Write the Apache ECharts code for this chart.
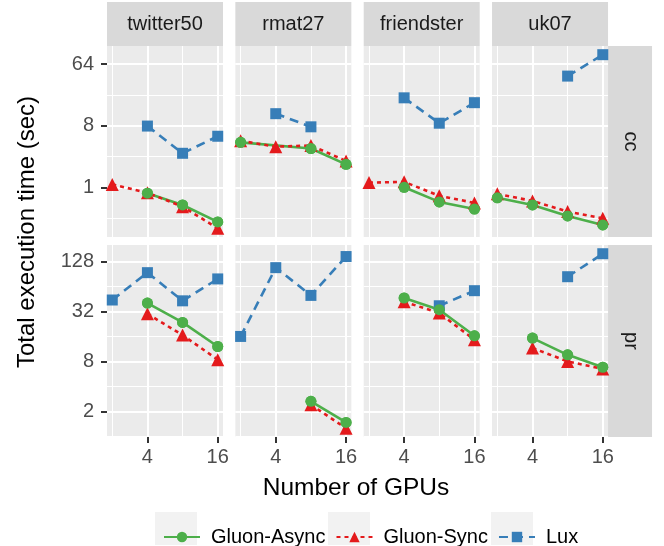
<!DOCTYPE html>
<html><head><meta charset="utf-8">
<script src="https://cdn.jsdelivr.net/npm/echarts@6/dist/echarts.min.js"></script>
<style>html,body{margin:0;padding:0;background:#fff}#c{width:664px;height:546px}</style>
</head><body><div id="c"></div>
<script>
// ---------- data ----------
const gpus = [2, 4, 8, 16];
const datasets = ['twitter50', 'rmat27', 'friendster', 'uk07'];
const metrics = ['cc', 'pr'];
const seriesNames = ['Gluon-Async', 'Gluon-Sync', 'Lux'];
const xTickValues = [4, 16];
const ccTickValues = [1, 8, 64];
const prTickValues = [2, 8, 32, 128];

// one row per dataset (twitter50, rmat27, friendster, uk07); one value per GPU count (2, 4, 8, 16)
const ccAsync = [[null, 0.82, 0.55, 0.31], [4.56, null, 3.7, 2.17], [null, 1.0, 0.61, 0.48], [0.70, 0.55, 0.38, 0.28]];
const ccSync  = [[1.1, 0.83, 0.52, 0.25], [4.8, 3.94, 4.1, 2.43], [1.17, 1.2, 0.75, 0.59], [0.8, 0.63, 0.44, 0.35]];
const ccLux   = [[null, 7.9, 3.15, 5.6], [null, 12, 7.7, null], [null, 20.5, 8.7, 17.4], [null, null, 42.7, 88]];
const prAsync = [[null, 40.4, 23.6, 12.1], [null, null, 2.64, 1.47], [null, 46.5, 33.6, 16.3], [null, 15.3, 9.6, 6.8]];
const prSync  = [[null, 30, 16.6, 8.4], [null, null, 2.4, 1.25], [null, 42, 30.6, 14.6], [null, 11.6, 8.0, 6.5]];
const prLux   = [[44, 94, 43, 79], [16, 108, 50, 147], [null, null, 37.5, 57], [null, null, 84, 159]];

// ---------- style / layout ----------
const FONT = "'Liberation Sans', Arial, Helvetica, sans-serif";
const COLORS = { 'Gluon-Async': '#4daf4a', 'Gluon-Sync': '#e41a1c', 'Lux': '#377eb8' };
const SYMBOLS = { 'Gluon-Async': 'circle', 'Gluon-Sync': 'triangle', 'Lux': 'rect' };
const SYM_SIZE = { 'Gluon-Async': 11, 'Gluon-Sync': 13, 'Lux': 11 };
const DASH = { 'Gluon-Async': 'solid', 'Gluon-Sync': [4, 4], 'Lux': [9, 6] };
const PANEL_LEFT = 107, PANEL_W = 116, PANEL_STEP = 128.35;
const ROWS = [{ top: 46, h: 191 }, { top: 245, h: 192 }];
const STRIP = 44;

const dataByMetric = {
  cc: { 'Gluon-Async': ccAsync, 'Gluon-Sync': ccSync, 'Lux': ccLux },
  pr: { 'Gluon-Async': prAsync, 'Gluon-Sync': prSync, 'Lux': prLux }
};
const ticksByMetric = { cc: ccTickValues, pr: prTickValues };

function logExtent(vals) {
  const l = vals.filter(v => v != null).map(v => Math.log2(v));
  const lo = Math.min(...l), hi = Math.max(...l), pad = (hi - lo) * 0.05;
  return [Math.pow(2, lo - pad), Math.pow(2, hi + pad)];
}
function minorOf(ticks, ext) {
  const out = [];
  const r = ticks[1] / ticks[0];
  const all = [ticks[0] / r].concat(ticks, [ticks[ticks.length - 1] * r]);
  for (let i = 0; i < all.length - 1; i++) {
    const m = Math.sqrt(all[i] * all[i + 1]);
    if (m >= ext[0] && m <= ext[1]) out.push(m);
  }
  return out;
}
const xExt = logExtent(gpus);
const xMinor = minorOf(xTickValues, xExt);
const yExt = {};
metrics.forEach(m => {
  let all = [];
  seriesNames.forEach(s => dataByMetric[m][s].forEach(r => all = all.concat(r)));
  yExt[m] = logExtent(all);
});

const grid = [], xAxis = [], yAxis = [], series = [], graphic = [];
const tickStyle = { color: '#333333', width: 2 };
const labelStyle = { fontSize: 20, color: '#4d4d4d', fontFamily: FONT };

metrics.forEach((m, r) => {
  datasets.forEach((d, c) => {
    const i = r * 4 + c;
    const left = PANEL_LEFT + c * PANEL_STEP;
    grid.push({ left: left, top: ROWS[r].top, width: PANEL_W, height: ROWS[r].h,
      show: true, backgroundColor: '#ebebeb', borderWidth: 0 });
    xAxis.push({ gridIndex: i, type: 'log', logBase: 2, min: xExt[0], max: xExt[1],
      axisLine: { show: false }, splitLine: { show: false }, minorSplitLine: { show: false },
      axisTick: { show: r === 1, customValues: xTickValues, length: 6, lineStyle: tickStyle },
      axisLabel: Object.assign({ show: r === 1, customValues: xTickValues, margin: 10,
        formatter: v => String(Math.round(v)) }, labelStyle) });
    const yt = ticksByMetric[m];
    yAxis.push({ gridIndex: i, type: 'log', logBase: 2, min: yExt[m][0], max: yExt[m][1],
      axisLine: { show: false }, splitLine: { show: false }, minorSplitLine: { show: false },
      axisTick: { show: c === 0, customValues: yt, length: 6, lineStyle: tickStyle },
      axisLabel: Object.assign({ show: c === 0, customValues: yt, margin: 13,
        formatter: v => String(Math.round(v)) }, labelStyle) });

    // panel grid lines (major + minor), ggplot style
    const yMinor = minorOf(yt, yExt[m]);
    const ml = [];
    xMinor.forEach(v => ml.push({ xAxis: v, lineStyle: { width: 1 } }));
    xTickValues.forEach(v => ml.push({ xAxis: v, lineStyle: { width: 2 } }));
    yMinor.forEach(v => ml.push({ yAxis: v, lineStyle: { width: 1 } }));
    yt.forEach(v => { if (v >= yExt[m][0] && v <= yExt[m][1]) ml.push({ yAxis: v, lineStyle: { width: 2 } }); });
    series.push({ type: 'line', name: '_grid' + i, xAxisIndex: i, yAxisIndex: i, data: [], z: 1,
      silent: true, markLine: { z: 1, silent: true, animation: false, symbol: ['none', 'none'],
        label: { show: false }, lineStyle: { color: '#ffffff', type: 'solid' }, data: ml } });

    seriesNames.forEach(s => {
      const vals = dataByMetric[m][s][c];
      const pts = [];
      gpus.forEach((g, k) => { if (vals[k] != null) pts.push([g, vals[k]]); });
      if (!pts.length) return;
      series.push({ type: 'line', name: s, xAxisIndex: i, yAxisIndex: i, data: pts, z: 2,
        symbol: SYMBOLS[s], symbolSize: SYM_SIZE[s], showSymbol: true, showAllSymbol: true,
        itemStyle: { color: COLORS[s], borderWidth: 0, borderType: 'solid' },
        lineStyle: { color: COLORS[s], width: 2.6, type: DASH[s] },
        emphasis: { disabled: true } });
    });
    // circles drawn above triangles, as in the reference
    const av = dataByMetric[m]['Gluon-Async'][c];
    const apts = [];
    gpus.forEach((g, k) => { if (av[k] != null) apts.push([g, av[k]]); });
    if (apts.length) series.push({ type: 'scatter', name: 'Gluon-Async', xAxisIndex: i, yAxisIndex: i,
      data: apts, z: 3, symbol: 'circle', symbolSize: SYM_SIZE['Gluon-Async'],
      itemStyle: { color: COLORS['Gluon-Async'], opacity: 1, borderWidth: 0 },
      emphasis: { disabled: true } });

    // strips
    if (r === 0) {
      graphic.push({ type: 'rect', shape: { x: left, y: ROWS[0].top - STRIP, width: PANEL_W, height: STRIP },
        style: { fill: '#d9d9d9' }, silent: true });
      graphic.push({ type: 'text', x: left + PANEL_W / 2, y: ROWS[0].top - STRIP / 2,
        style: { text: d, fill: '#1a1a1a', fontSize: 20, fontFamily: FONT, align: 'center', verticalAlign: 'middle' } });
    }
    if (c === 3) {
      graphic.push({ type: 'rect', shape: { x: left + PANEL_W, y: ROWS[r].top, width: STRIP, height: ROWS[r].h },
        style: { fill: '#d9d9d9' }, silent: true });
      graphic.push({ type: 'text', x: left + PANEL_W + STRIP / 2, y: ROWS[r].top + ROWS[r].h / 2, rotation: -Math.PI / 2,
        style: { text: m, fill: '#1a1a1a', fontSize: 20, fontFamily: FONT, align: 'center', verticalAlign: 'middle' } });
    }
  });
});

// axis titles
graphic.push({ type: 'text', x: 356, y: 488,
  style: { text: 'Number of GPUs', fill: '#000', fontSize: 24.5, fontFamily: FONT, align: 'center', verticalAlign: 'middle' } });
graphic.push({ type: 'text', x: 27, y: 232, rotation: Math.PI / 2,
  style: { text: 'Total execution time (sec)', fill: '#000', fontSize: 24, fontFamily: FONT, align: 'center', verticalAlign: 'middle' } });
// legend key backgrounds
[155, 328, 491].forEach(x => graphic.push({ type: 'rect', z: -1, shape: { x: x, y: 512, width: 42, height: 33 },
  style: { fill: '#f2f2f2' }, silent: true }));

const chart = echarts.init(document.getElementById('c'), null, { renderer: 'canvas' });
chart.setOption({
  animation: false,
  backgroundColor: '#ffffff',
  grid, xAxis, yAxis, series, graphic,
  legend: { data: seriesNames, left: 158, top: 522, itemWidth: 36, itemHeight: 13, itemGap: 10,
    textStyle: { fontSize: 20, color: '#000', fontFamily: FONT, padding: [0, 0, 0, 6] }, selectedMode: false }
});
</script>
</body></html>
